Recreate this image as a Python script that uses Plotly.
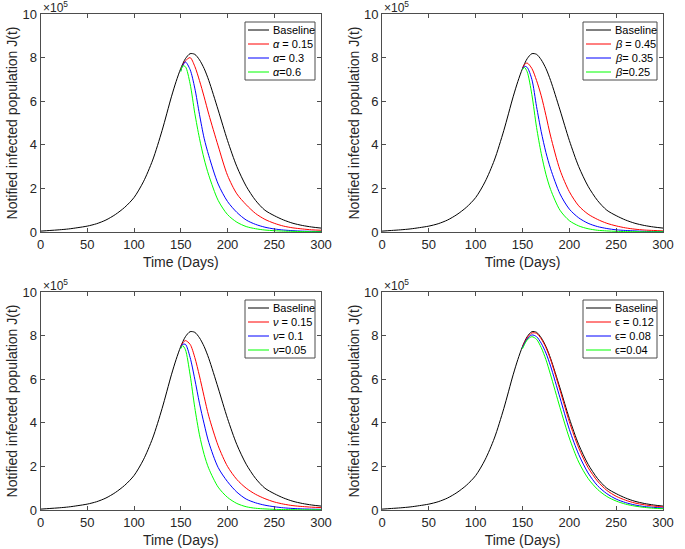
import plotly.graph_objects as go

# ---------------- data (values in units of 1e5) ----------------
t_base = [0, 10, 20, 30, 40, 50, 60, 70, 80, 90, 100, 110, 120, 130, 140, 145,
          150, 155, 160, 165, 170, 175, 180, 190, 200, 210, 220, 230, 240, 250,
          260, 270, 280, 290, 300]
j_base = [0.04, 0.07, 0.10, 0.14, 0.20, 0.27, 0.38, 0.55, 0.80, 1.13, 1.58, 2.3,
          3.3, 4.65, 6.2, 6.9, 7.5, 7.95, 8.18, 8.15, 7.9, 7.5, 6.95, 5.6, 4.2,
          3.0, 2.1, 1.45, 1.0, 0.75, 0.55, 0.4, 0.3, 0.23, 0.18]

t_ctrl = [150, 152, 155, 160, 165, 170, 175, 180, 190, 200, 210, 220, 230, 240,
          250, 260, 270, 280, 290, 300]

# alpha panel
alpha_015 = [7.45, 7.65, 7.85, 8.0, 7.6, 6.95, 6.2, 5.4, 3.95, 2.6, 1.75, 1.25,
             0.85, 0.58, 0.40, 0.27, 0.19, 0.14, 0.10, 0.08]
alpha_03 = [7.4, 7.62, 7.8, 7.45, 6.6, 5.4, 4.3, 3.5, 2.2, 1.4, 0.9, 0.55, 0.35,
            0.22, 0.14, 0.09, 0.06, 0.04, 0.03, 0.02]
alpha_06 = [7.35, 7.62, 7.58, 6.8, 5.45, 4.3, 3.35, 2.6, 1.45, 0.8, 0.45, 0.25,
            0.15, 0.09, 0.06, 0.04, 0.03, 0.02, 0.015, 0.01]

# beta panel
beta_045 = [7.5, 7.68, 7.75, 7.5, 6.95, 6.25, 5.35, 4.4, 2.85, 1.85, 1.2, 0.82,
            0.58, 0.4, 0.28, 0.19, 0.13, 0.09, 0.07, 0.05]
beta_035 = [7.5, 7.6, 7.55, 7.0, 5.75, 4.6, 3.65, 2.9, 1.75, 1.05, 0.65, 0.4,
            0.25, 0.16, 0.1, 0.07, 0.05, 0.03, 0.02, 0.02]
beta_025 = [7.45, 7.55, 7.35, 6.3, 4.8, 3.6, 2.65, 1.95, 1.0, 0.52, 0.28, 0.15,
            0.08, 0.05, 0.03, 0.02, 0.015, 0.01, 0.01, 0.01]

# nu panel
nu_015 = [7.5, 7.65, 7.77, 7.6, 7.0, 6.15, 5.2, 4.3, 2.95, 2.0, 1.4, 1.0, 0.72,
          0.52, 0.37, 0.27, 0.2, 0.16, 0.13, 0.11]
nu_01 = [7.45, 7.6, 7.6, 7.0, 6.0, 4.9, 3.95, 3.1, 1.95, 1.3, 0.82, 0.5, 0.33,
         0.22, 0.15, 0.1, 0.07, 0.05, 0.04, 0.03]
nu_005 = [7.4, 7.54, 7.35, 6.2, 4.7, 3.45, 2.55, 1.9, 1.05, 0.58, 0.3, 0.15,
          0.08, 0.05, 0.03, 0.02, 0.015, 0.01, 0.01, 0.01]

# epsilon panel
eps_012 = [7.5, 7.68, 7.9, 8.12, 8.1, 7.85, 7.45, 6.9, 5.5, 4.05, 2.85, 1.95,
           1.33, 0.9, 0.63, 0.45, 0.32, 0.24, 0.18, 0.14]
eps_008 = [7.45, 7.63, 7.85, 8.03, 7.95, 7.65, 7.2, 6.6, 5.15, 3.7, 2.55, 1.7,
           1.12, 0.75, 0.5, 0.34, 0.23, 0.16, 0.12, 0.09]
eps_004 = [7.4, 7.58, 7.8, 7.95, 7.83, 7.45, 6.9, 6.2, 4.7, 3.3, 2.2, 1.45,
           0.95, 0.62, 0.41, 0.27, 0.18, 0.12, 0.08, 0.06]

x_ticks = [0, 50, 100, 150, 200, 250, 300]
y_ticks = [0, 2, 4, 6, 8, 10]

panels = [
    (["<i>α</i> = 0.15", "<i>α</i>= 0.3", "<i>α</i>=0.6"], [alpha_015, alpha_03, alpha_06]),
    (["<i>β</i> = 0.45", "<i>β</i>= 0.35", "<i>β</i>=0.25"], [beta_045, beta_035, beta_025]),
    (["<i>ν</i> = 0.15", "<i>ν</i>= 0.1", "<i>ν</i>=0.05"], [nu_015, nu_01, nu_005]),
    (["ϵ = 0.12", "ϵ= 0.08", "ϵ=0.04"], [eps_012, eps_008, eps_004]),
]
colors = ["#ff0000", "#0000ff", "#00ff00"]

W, H = 685, 549
xpx = [[40.5, 321], [382, 663]]
ypx = [[14, 232], [292, 510]]
xdoms = [[a / W, b / W] for a, b in xpx]
ydoms = [[1 - b / H, 1 - a / H] for a, b in ypx]

FONT = "Liberation Sans, Arial, sans-serif"
AX = "#4d4d4d"
TXT = "#262626"

fig = go.Figure()
layout = dict(width=W, height=H,
              margin=dict(l=0, r=0, t=0, b=0, pad=0, autoexpand=False),
              paper_bgcolor="white", plot_bgcolor="white",
              font=dict(family=FONT, color=TXT, size=13), showlegend=False)
annotations = []
shapes = []


def px(x, y):
    return x / W, 1 - y / H


for i, (names, series) in enumerate(panels):
    r, c = divmod(i, 2)
    sfx = "" if i == 0 else str(i + 1)
    xa, ya = "x" + sfx, "y" + sfx
    all_names = ["Baseline"] + names
    all_cols = ["#000000"] + colors
    fig.add_trace(go.Scatter(x=t_base, y=j_base, mode="lines", name="Baseline",
                             line=dict(color="black", width=1, shape="spline", smoothing=0.8),
                             xaxis=xa, yaxis=ya))
    for nm, s, col in zip(names, series, colors):
        fig.add_trace(go.Scatter(x=t_ctrl, y=s, mode="lines", name=nm,
                                 line=dict(color=col, width=1, shape="spline", smoothing=0.8),
                                 xaxis=xa, yaxis=ya))
    common = dict(showline=True, mirror="ticks", linecolor=AX, linewidth=1,
                  ticks="inside", ticklen=4, tickcolor=AX, showgrid=False,
                  zeroline=False, automargin=False,
                  tickfont=dict(size=13, color=TXT, family=FONT))
    layout["xaxis" + sfx] = dict(common, domain=xdoms[c], range=[0, 300],
                                 tickvals=x_ticks, anchor=ya,
                                 title=dict(text="Time (Days)", font=dict(size=14, color=TXT),
                                            standoff=6))
    layout["yaxis" + sfx] = dict(common, domain=ydoms[r], range=[0, 10],
                                 tickvals=y_ticks, anchor=xa,
                                 title=dict(text="Notified infected population J(t)",
                                            font=dict(size=14, color=TXT), standoff=1))
    # ---- legend box (MATLAB style, compact) ----
    bw = 70 if c == 0 else 74
    bh = 58
    right = xpx[c][1] - 6
    top = ypx[r][0] + 8
    left = right - bw
    x0, y0 = px(left, top + bh)
    x1, y1 = px(right, top)
    shapes.append(dict(type="rect", xref="paper", yref="paper", x0=x0, y0=y0, x1=x1, y1=y1,
                       line=dict(color=AX, width=1), fillcolor="white", layer="above"))
    for k, (nm, col) in enumerate(zip(all_names, all_cols)):
        yy = top + 8 + k * 14
        lx0, ly = px(left + 3, yy)
        lx1, _ = px(left + 3 + (21 if c == 0 else 25), yy)
        shapes.append(dict(type="line", xref="paper", yref="paper", x0=lx0, y0=ly, x1=lx1, y1=ly,
                           line=dict(color=col, width=1), layer="above"))
        tx, _ = px(left + 5 + (21 if c == 0 else 25), yy)
        annotations.append(dict(text=nm, xref="paper", yref="paper", x=tx, y=ly,
                                xanchor="left", yanchor="middle", showarrow=False,
                                font=dict(size=11, color="black", family=FONT)))
    annotations.append(dict(text="×10<sup>5</sup>", xref="paper", yref="paper",
                            x=xdoms[c][0], y=ydoms[r][1], xanchor="left", yanchor="bottom",
                            showarrow=False, font=dict(size=12, color=TXT, family=FONT),
                            yshift=-3))

layout["annotations"] = annotations
layout["shapes"] = shapes
fig.update_layout(**layout)
fig.write_html("out.html", config={"displayModeBar": False},
               post_script="document.body.style.margin='0';document.body.style.overflow='hidden';")
